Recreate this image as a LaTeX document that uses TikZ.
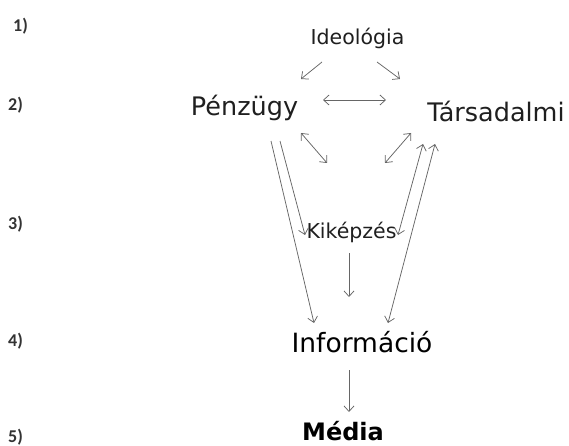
\documentclass[tikz,border=0pt]{standalone}
\usepackage{fontspec}
\setmainfont{DejaVu Sans}
\newfontfamily\stepfont{Carlito}
\usetikzlibrary{arrows.meta,calc}

\begin{document}
\begin{tikzpicture}
  [x=1pt,y=-1pt,
   every node/.style={inner sep=0pt,anchor=base,text=black!88},
   lvl/.style={anchor=base west,text=black!80,font=\stepfont\bfseries\fontsize{18}{21}\selectfont},
   small/.style={font=\fontsize{20.5}{24}\selectfont},
   big/.style={font=\fontsize{25.5}{30}\selectfont},
   arr/.style={draw=black!60,line width=.75pt,-{Straight Barb[length=5.5pt,width=10pt]}},
   darr/.style={arr,{Straight Barb[length=5.5pt,width=10pt]}-{Straight Barb[length=5.5pt,width=10pt]}}]
  \useasboundingbox (0,0) rectangle (569,446);
  % step numbers on the left
  \node[lvl] (s1) at (13,32) {1)};
  \foreach \n/\y in {2/111,3/229,4/346,5/442}
    \node[lvl] (s\n) at (8,\y) {\n)};
  % the words
  \node[small] (ideo)  at (357.5,45) {Ideológia};
  \node[big]   (penz)  at (244.5,116) {Pénzügy};
  \node[big]   (tars)  at (496,122) {Társadalmi};
  \node[small] (kik)   at (351.5,238) {Kiképzés};
  \node[font=\fontsize{26.5}{31}\selectfont,text=black] (info) at (362,352) {Információ};
  \node[font=\bfseries\fontsize{24}{29}\selectfont,text=black] (media) at (343,440) {Média};
  % connectors
  \draw[arr]  ($(ideo.base)+(-35.5,17)$) -- ($(penz.base)+(56.5,-37)$);
  \draw[arr]  ($(ideo.base)+(19.5,17)$) -- ($(tars.base)+(-96,-43)$);
  \draw[darr] ($(penz.base)+(78.5,-16)$) -- ($(tars.base)+(-110,-22)$);
  \draw[darr] ($(penz.base)+(56.5,17)$) -- ($(kik.base)+(-24.5,-75)$);
  \draw[darr] ($(tars.base)+(-85,11)$) -- ($(kik.base)+(33.5,-75)$);
  \draw[arr]  ($(penz.base)+(26.5,25)$) -- ($(info.base)+(-48,-29)$);
  \draw[arr]  ($(penz.base)+(35.5,25)$) -- ($(kik.base)+(-46.5,-3)$);
  \draw[darr] ($(kik.base)+(46.5,-3)$) -- ($(tars.base)+(-73,22)$);
  \draw[darr] ($(info.base)+(26,-29)$) -- ($(tars.base)+(-61,22)$);
  \draw[arr]  ($(kik.base)+(-2.5,15)$) -- ($(info.base)+(-13,-55)$);
  \draw[arr]  ($(info.base)+(-13,18)$) -- ($(media.base)+(6,-28)$);
\end{tikzpicture}
\end{document}
